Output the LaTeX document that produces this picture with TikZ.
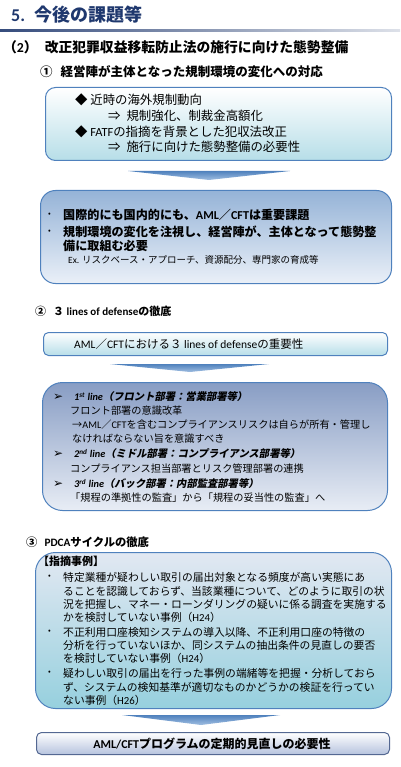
\documentclass[tikz,border=0pt]{standalone}
\usepackage{fontspec}
\setmainfont{Noto Sans CJK JP}
\newfontfamily\jpslant{Noto Sans CJK JP}[FakeSlant=0.2, BoldFeatures={FakeSlant=0.2}]
\newfontfamily\latfont{Carlito}
\newfontfamily\dvfont{DejaVu Sans}
\newcommand\lt[1]{{\latfont #1}}
\definecolor{titleblue}{RGB}{31,56,110}
\definecolor{bordblue}{RGB}{79,129,189}
\definecolor{cyanlt}{RGB}{183,222,232}
\definecolor{b2top}{RGB}{149,179,215}
\definecolor{b2bot}{RGB}{234,240,248}
\definecolor{b4top}{RGB}{136,157,196}
\definecolor{b4bot}{RGB}{232,237,245}
\definecolor{b5top}{RGB}{226,232,242}
\definecolor{b5bot}{RGB}{150,208,222}
\definecolor{b6bot}{RGB}{182,195,222}
\definecolor{b6bord}{RGB}{84,104,146}
\definecolor{arrowdark}{RGB}{79,129,189}
\definecolor{arrowlt}{RGB}{160,190,225}
\begin{document}
\begin{tikzpicture}[x=1pt,y=-1pt,
  box/.style={draw=bordblue, line width=1pt, anchor=north west, inner sep=0pt},
  txt/.style={anchor=west, inner sep=0pt},
  dot/.style={anchor=west, inner sep=0pt, font=\fontsize{8}{9}\selectfont},
  mark4/.style={anchor=west, inner sep=0pt, font=\dvfont\bfseries\fontsize{12}{13}\selectfont},
  head4/.style={anchor=west, inner sep=0pt, font=\jpslant\bfseries\fontsize{10.3}{12}\selectfont},
  wedge/.style={top color=arrowdark, bottom color=arrowlt, draw=none}]
\useasboundingbox (0,0) rectangle (400,767);
% title
\node[txt, font=\bfseries\fontsize{18}{20}\selectfont, text=titleblue] (title) at (11,15) {\lt{5.}\hspace{9pt}今後の課題等};
\shade[left color=titleblue!90, right color=titleblue!15] (0,29.5) rectangle (400,31.5);
\node[txt, font=\bfseries\fontsize{13.8}{16}\selectfont] (h2) at (3,47) {（\lt{2}）\hspace{7pt}改正犯罪収益移転防止法の施行に向けた態勢整備};
\node[txt, font=\bfseries\fontsize{12.5}{14}\selectfont] (h21) at (40,72) {①\hspace{8pt}経営陣が主体となった規制環境の変化への対応};
% box 1
\node[box, rounded corners=10pt, top color=white, bottom color=cyanlt, minimum width=346pt, minimum height=73pt] (b1) at (45,87) {};
\begin{scope}[font=\fontsize{12.4}{14}\selectfont]
\node[txt] (b1a) at (75,100) {◆ 近時の海外規制動向};
\node[txt] (b1b) at (108,116) {⇒\hspace{6pt}規制強化、制裁金高額化};
\node[txt] (b1c) at (75,132) {◆ \lt{FATF}の指摘を背景とした犯収法改正};
\node[txt] (b1d) at (108,147) {⇒\hspace{6pt}施行に向けた態勢整備の必要性};
\end{scope}
% arrow 1
\coordinate (a1l) at (128,171); \coordinate (a1r) at (290,171); \coordinate (a1t) at (209,180);
\shade[wedge] (a1l) -- (a1r) -- (a1t) -- cycle;
% box 2
\node[box, rounded corners=15pt, top color=b2top, bottom color=b2bot, minimum width=351pt, minimum height=93pt] (b2) at (40,190) {};
\begin{scope}[font=\bfseries\fontsize{12.1}{14}\selectfont]
\node[dot] (b2d1) at (48,215) {•};
\node[txt] (b2a) at (63,215) {国際的にも国内的にも、\lt{AML}／\lt{CFT}は重要課題};
\node[dot] (b2d2) at (48,232) {•};
\node[txt] (b2b) at (63,232) {規制環境の変化を注視し、経営陣が、主体となって態勢整};
\node[txt] (b2c) at (63,246) {備に取組む必要};
\end{scope}
\node[txt, font=\fontsize{9.5}{11}\selectfont] (b2e) at (68,260) {\lt{Ex.} リスクベース・アプローチ、資源配分、専門家の育成等};
% section 2
\node[txt, font=\bfseries\fontsize{11}{13}\selectfont] (h22) at (35,311) {②\hspace{7pt}３ \lt{lines of defense}の徹底};
\node[box, rounded corners=5pt, top color=white, bottom color=cyanlt, minimum width=344pt, minimum height=23pt] (b3) at (43,332) {};
\node[txt, font=\fontsize{11.5}{13}\selectfont] (b3t) at (74,344) {\lt{AML}／\lt{CFT}における３ \lt{lines of defense}の重要性};
% arrow 2
\coordinate (a2l) at (110,364); \coordinate (a2r) at (269,364); \coordinate (a2t) at (190,372);
\shade[wedge] (a2l) -- (a2r) -- (a2t) -- cycle;
% box 4
\node[box, rounded corners=20pt, top color=b4top, bottom color=b4bot, minimum width=345pt, minimum height=128pt] (b4) at (42,382) {};
\begin{scope}[font=\fontsize{10.2}{12}\selectfont]
\node[mark4] (b4m1) at (53,397) {➢};
\node[head4] (b4a) at (74,397) {\lt{\itshape 1\textsuperscript{st} line}（フロント部署：営業部署等）};
\node[txt] (b4b) at (70,411) {フロント部署の意識改革};
\node[txt] (b4c) at (72,425) {→\lt{AML}／\lt{CFT}を含むコンプライアンスリスクは自らが所有・管理し};
\node[txt] (b4d) at (72,439) {なければならない旨を意識すべき};
\node[mark4] (b4m2) at (53,454) {➢};
\node[head4] (b4e) at (74,454) {\lt{\itshape 2\textsuperscript{nd} line}（ミドル部署：コンプライアンス部署等）};
\node[txt] (b4f) at (70,469) {コンプライアンス担当部署とリスク管理部署の連携};
\node[mark4] (b4m3) at (53,484) {➢};
\node[head4] (b4g) at (74,484) {\lt{\itshape 3\textsuperscript{rd} line}（バック部署：内部監査部署等）};
\node[txt] (b4h) at (70,498) {「規程の準拠性の監査」から「規程の妥当性の監査」へ};
\end{scope}
% section 3
\node[txt, font=\bfseries\fontsize{11.3}{13}\selectfont] (h23) at (26,542) {③\hspace{7pt}\lt{PDCA}サイクルの徹底};
\node[box, rounded corners=20pt, top color=b5top, bottom color=b5bot, minimum width=356pt, minimum height=156pt] (b5) at (35,552) {};
\node[txt, font=\bfseries\fontsize{11}{13}\selectfont] (b5h) at (38,561) {【指摘事例】};
\begin{scope}[font=\fontsize{10.8}{13}\selectfont]
\node[dot] (b5d1) at (48,577) {•};
\node[txt] (b5a1) at (63,577) {特定業種が疑わしい取引の届出対象となる頻度が高い実態にあ};
\node[txt] (b5a2) at (63,591) {ることを認識しておらず、当該業種について、どのように取引の状};
\node[txt] (b5a3) at (63,604) {況を把握し、マネー・ローンダリングの疑いに係る調査を実施する};
\node[txt] (b5a4) at (63,617) {かを検討していない事例（\lt{H24}）};
\node[dot] (b5d2) at (48,632) {•};
\node[txt] (b5b1) at (63,632) {不正利用口座検知システムの導入以降、不正利用口座の特徴の};
\node[txt] (b5b2) at (63,645) {分析を行っていないほか、同システムの抽出条件の見直しの要否};
\node[txt] (b5b3) at (63,658) {を検討していない事例（\lt{H24}）};
\node[dot] (b5d3) at (48,673) {•};
\node[txt] (b5c1) at (63,673) {疑わしい取引の届出を行った事例の端緒等を把握・分析しておら};
\node[txt] (b5c2) at (63,687) {ず、システムの検知基準が適切なものかどうかの検証を行ってい};
\node[txt] (b5c3) at (63,700) {ない事例（\lt{H26}）};
\end{scope}
% arrow 3
\coordinate (a3l) at (122,715); \coordinate (a3r) at (280,715); \coordinate (a3t) at (201,725);
\shade[wedge] (a3l) -- (a3r) -- (a3t) -- cycle;
% box 6
\node[box, draw=b6bord, rounded corners=5pt, top color=white, bottom color=b6bot, minimum width=353pt, minimum height=22pt] (b6) at (36,732) {};
\node[font=\bfseries\fontsize{12}{14}\selectfont, inner sep=0pt] (b6t) at (212,744) {\lt{AML/CFT}プログラムの定期的見直しの必要性};
\end{tikzpicture}
\end{document}
